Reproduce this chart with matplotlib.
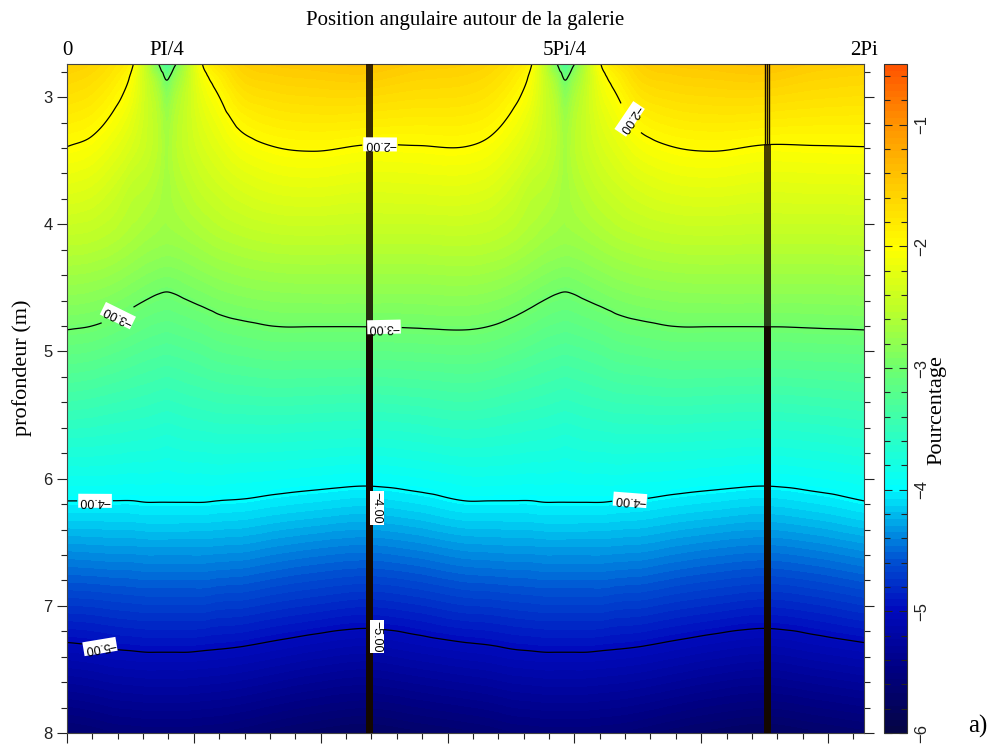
import numpy as np
import matplotlib
matplotlib.use('Agg')
import matplotlib.pyplot as plt
import matplotlib.tri as mtri
from matplotlib.colors import LinearSegmentedColormap, Normalize
from matplotlib.cm import ScalarMappable
from matplotlib.ticker import MultipleLocator

plt.rcParams['font.family'] = ['Liberation Sans', 'DejaVu Sans']

# ---------------- data ----------------
# depth rows (m)
depths = [2.74, 2.85, 3.0, 3.2, 3.4, 3.7, 4.1, 4.5, 4.9, 5.4, 5.9, 6.2, 6.6, 7.0, 7.4, 8.0]
# angle columns over half a turn (units of pi); the field repeats with period pi
angles_half = [0, 0.06, 0.12, 0.16, 0.20, 0.23, 0.25, 0.27, 0.30, 0.34, 0.38, 0.44, 0.52, 0.62, 0.75, 0.88]
# pourcentage values (rows = depths, columns = angles_half)
pourcentage_half = [
    [-1.54, -1.60, -1.75, -1.93, -2.50, -3.00, -3.30, -3.05, -2.60, -2.00, -1.75, -1.55, -1.48, -1.45, -1.42, -1.50],
    [-1.62, -1.68, -1.83, -2.03, -2.45, -2.75, -3.03, -2.80, -2.52, -2.10, -1.89, -1.64, -1.57, -1.54, -1.52, -1.59],
    [-1.72, -1.78, -1.94, -2.11, -2.42, -2.62, -2.82, -2.66, -2.46, -2.18, -2.01, -1.77, -1.69, -1.66, -1.66, -1.70],
    [-1.865, -1.92, -2.07, -2.22, -2.42, -2.56, -2.70, -2.58, -2.44, -2.26, -2.13, -1.94, -1.85, -1.82, -1.84, -1.86],
    [-2.007, -2.06, -2.20, -2.32, -2.44, -2.55, -2.66, -2.56, -2.45, -2.33, -2.23, -2.09, -2.007, -1.98, -2.02, -2.014],
    [-2.215, -2.26, -2.38, -2.49, -2.54, -2.61, -2.68, -2.61, -2.54, -2.45, -2.38, -2.29, -2.22, -2.20, -2.23, -2.22],
    [-2.49, -2.51, -2.57, -2.63, -2.69, -2.72, -2.73, -2.72, -2.69, -2.64, -2.59, -2.54, -2.50, -2.49, -2.50, -2.50],
    [-2.77, -2.79, -2.84, -2.89, -2.94, -2.97, -2.98, -2.97, -2.94, -2.90, -2.86, -2.82, -2.79, -2.78, -2.78, -2.78],
    [-3.05, -3.07, -3.12, -3.16, -3.20, -3.22, -3.23, -3.22, -3.20, -3.17, -3.13, -3.10, -3.07, -3.07, -3.07, -3.06],
    [-3.42, -3.44, -3.47, -3.49, -3.51, -3.53, -3.54, -3.53, -3.51, -3.49, -3.47, -3.46, -3.45, -3.46, -3.47, -3.45],
    [-3.80, -3.80, -3.81, -3.82, -3.82, -3.83, -3.84, -3.83, -3.82, -3.82, -3.81, -3.82, -3.83, -3.85, -3.87, -3.84],
    [-4.02, -4.02, -4.02, -4.02, -4.01, -4.01, -4.01, -4.01, -4.01, -4.01, -4.02, -4.03, -4.06, -4.09, -4.12, -4.08],
    [-4.38, -4.37, -4.36, -4.36, -4.35, -4.35, -4.35, -4.35, -4.35, -4.35, -4.36, -4.37, -4.41, -4.45, -4.48, -4.44],
    [-4.74, -4.73, -4.71, -4.70, -4.69, -4.69, -4.69, -4.69, -4.69, -4.69, -4.71, -4.72, -4.76, -4.80, -4.84, -4.80],
    [-5.10, -5.08, -5.05, -5.04, -5.03, -5.03, -5.03, -5.03, -5.03, -5.04, -5.05, -5.07, -5.11, -5.16, -5.20, -5.15],
    [-5.64, -5.61, -5.57, -5.56, -5.55, -5.55, -5.55, -5.55, -5.55, -5.56, -5.57, -5.60, -5.65, -5.70, -5.74, -5.69],
]
contour_levels = [-5, -4, -3, -2]

# contour label anchor points (angle rad, depth m)
label_theta = [2.468, 4.423, 0.402, 2.499, 0.221, 4.439, 0.26]
label_depth = [3.385, 3.18, 4.72, 4.81, 6.16, 6.18, 7.32]
band_label_text = ['\u22124.00', '\u22125.00']
band_label_theta = [2.41, 2.41]
band_label_depth = [6.23, 7.24]

# dense mesh bands next to 3pi/4 and 7pi/4
band_start = [0.75 * np.pi, 1.75 * np.pi]
band_width = 0.055
band1_segments = [(2.74, 4.80, 0.85), (4.80, 8.0, 1.0)]
band2_segments = [(3.37, 4.80, 0.78), (4.80, 8.0, 1.0)]
band2_top_lines = [0.006, 0.022, 0.036]
band2_top_depths = (2.74, 3.37)

top_tick_pos = [0, np.pi / 4, 5 * np.pi / 4, 2 * np.pi]
top_tick_lab = ['0', 'PI/4', '5Pi/4', '2Pi']

vmin, vmax = -6.0, -0.5
cmap_vals = [-6.0, -5.5, -5.0, -4.6, -4.3, -4.05, -4.0, -3.6, -3.0, -2.5, -2.0, -1.5, -1.0, -0.5]
cmap_cols = ['#050546', '#000082', '#000abe', '#0050d2', '#00a0e6', '#00ebfa', '#00ffff',
             '#28ffc8', '#6eff6e', '#beff28', '#ffff00', '#ffcd00', '#ff9600', '#ff5500']

# ---------------- build field ----------------
half = np.array(pourcentage_half)
ang_full = np.concatenate([np.array(angles_half), np.array(angles_half) + 1.0, [2.0]]) * np.pi
val_full = np.hstack([half, half, half[:, :1]])
TH, ZZ = np.meshgrid(ang_full, np.array(depths))
ny, nx = ZZ.shape
idx = np.arange(ny * nx).reshape(ny, nx)
a = idx[:-1, :-1].ravel(); b = idx[:-1, 1:].ravel()
c = idx[1:, :-1].ravel(); d = idx[1:, 1:].ravel()
triangles = np.concatenate([np.stack([a, b, c], 1), np.stack([b, d, c], 1)])
tri = mtri.Triangulation(TH.ravel(), ZZ.ravel(), triangles)
refiner = mtri.UniformTriRefiner(tri)
interp = mtri.CubicTriInterpolator(tri, val_full.ravel(), kind='geom')
tri_f, val_f = refiner.refine_field(val_full.ravel(), triinterpolator=interp, subdiv=4)

nodes = [(v - vmin) / (vmax - vmin) for v in cmap_vals]
nbands = 100
cmap = LinearSegmentedColormap.from_list('pc', list(zip(nodes, cmap_cols)), N=nbands)
norm = Normalize(vmin=vmin, vmax=vmax)

# ---------------- figure ----------------
W, H = 994, 744
fig = plt.figure(figsize=(W / 100, H / 100), dpi=100, facecolor='white')
ax = fig.add_axes([67 / W, 1 - 733 / H, (864 - 67) / W, (733 - 64) / H])

levels_f = np.linspace(vmin, vmax, nbands + 1)
ax.tricontourf(tri_f, np.clip(val_f, vmin + 1e-6, vmax - 1e-6), levels=levels_f, cmap=cmap, norm=norm)
CS = ax.tricontour(tri_f, val_f, levels=contour_levels, colors='k', linewidths=0.9,
                   linestyles='solid')

labels = ax.clabel(CS, manual=list(zip(label_theta, label_depth)),
                   fmt=lambda v: f'{v:.2f}'.replace('-', '\u2212'), fontsize=9,
                   inline=True, inline_spacing=2)
for t in labels:
    t.set_rotation(t.get_rotation() + 180)
    t.set_bbox(dict(boxstyle='square,pad=0.08', fc='white', ec='none'))

# bands
x0 = band_start[0]
for z0, z1, al in band1_segments:
    ax.fill_betweenx([z0, z1], x0, x0 + band_width, color='#140800', alpha=al, lw=0, zorder=3)
x0 = band_start[1]
for z0, z1, al in band2_segments:
    ax.fill_betweenx([z0, z1], x0, x0 + band_width, color='#140800', alpha=al, lw=0, zorder=3)
for dx in band2_top_lines:
    ax.plot([x0 + dx, x0 + dx], list(band2_top_depths), color='#1a0d00', lw=1.0, zorder=3)

for txt, th, dp in zip(band_label_text, band_label_theta, band_label_depth):
    ax.text(th + 0.03, dp, txt, rotation=-90, fontsize=9, ha='center', va='center', zorder=4,
            bbox=dict(boxstyle='square,pad=0.08', fc='white', ec='none'))

ax.set_xlim(0, 2 * np.pi)
ax.set_ylim(8, 2.74)

ax.yaxis.set_major_locator(MultipleLocator(1))
ax.yaxis.set_minor_locator(MultipleLocator(0.2))
ax.xaxis.set_major_locator(MultipleLocator(1))
ax.xaxis.set_minor_locator(MultipleLocator(0.2))
ax.tick_params(axis='both', which='both', direction='out', colors='#222222')
ax.tick_params(axis='y', which='both', left=True, right=True, labelright=False, labelsize=12)
ax.tick_params(axis='x', which='both', bottom=True, top=False, labelbottom=False)
ax.tick_params(which='major', length=7, width=0.8)
ax.tick_params(which='minor', length=4, width=0.8)
for s in ax.spines.values():
    s.set_color('#444444')
    s.set_linewidth(0.8)

sec = ax.secondary_xaxis('top')
sec.set_xticks(top_tick_pos)
sec.set_xticklabels(top_tick_lab, family='Liberation Serif', fontsize=15)
sec.tick_params(length=0, pad=3)
sec.spines['top'].set_visible(False)

# colorbar
cax = fig.add_axes([884 / W, 1 - 733 / H, (907 - 884) / W, (733 - 64) / H])
cb = fig.colorbar(ScalarMappable(norm=norm, cmap=cmap), cax=cax)
cb.set_ticks([-6, -5, -4, -3, -2, -1])
cb.ax.yaxis.set_minor_locator(MultipleLocator(0.2))
cb.ax.tick_params(which='both', direction='in', left=True, right=True, labelsize=12,
                  labelrotation=90, pad=5, colors='#222222')
cb.ax.tick_params(which='major', length=6, width=0.8)
cb.ax.tick_params(which='minor', length=4, width=0.8)
for lab in cb.ax.get_yticklabels():
    lab.set_va('center')
cb.outline.set_linewidth(0.8)
cb.outline.set_edgecolor('#333333')

fig.text(465 / W, 1 - 21 / H, 'Position angulaire autour de la galerie', family='Liberation Serif',
         fontsize=15, ha='center', va='center')
fig.text(22 / W, 1 - 368 / H, 'profondeur (m)', family='Liberation Serif', fontsize=16,
         rotation=90, ha='center', va='center')
fig.text(937 / W, 1 - 410 / H, 'Pourcentage', family='Liberation Serif', fontsize=16,
         rotation=90, ha='center', va='center')
fig.text(978 / W, 1 - 726 / H, 'a)', family='Liberation Serif', fontsize=18, ha='center', va='center')

fig.savefig('out.png', dpi=100, facecolor='white')
